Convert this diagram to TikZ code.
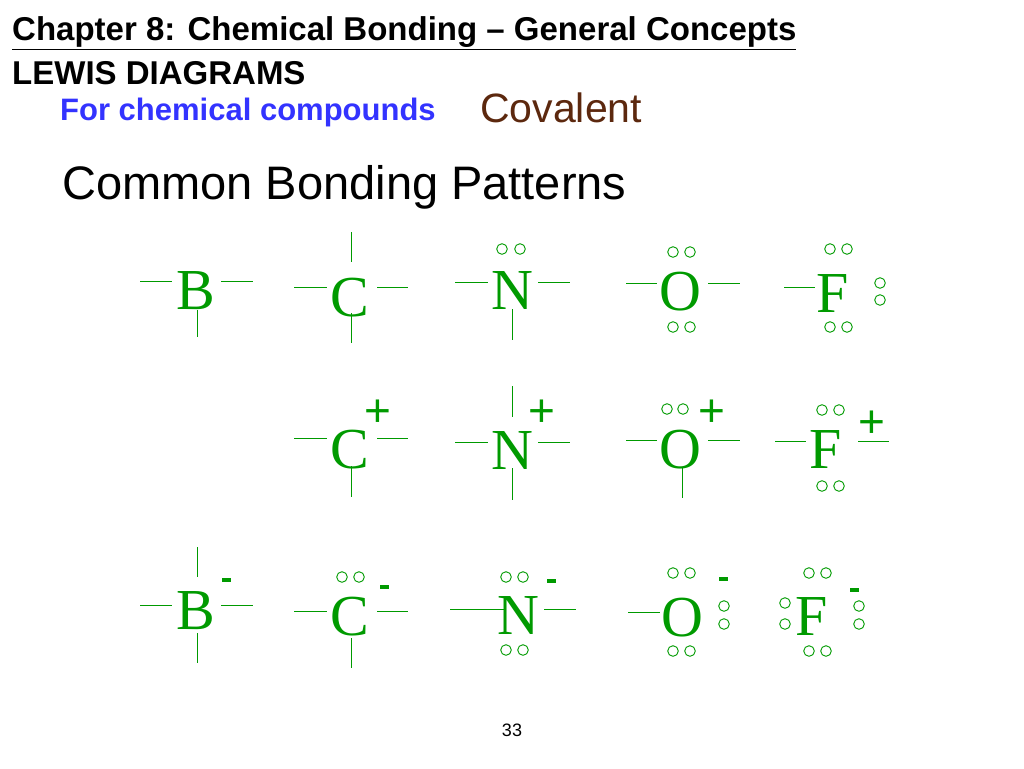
\documentclass[tikz,border=0pt]{standalone}
\usepackage{fontspec}
\setmainfont{Liberation Sans}
\newfontfamily\serif{Liberation Serif}
\begin{document}
\begin{tikzpicture}[x=1pt,y=-1pt,
  atom/.style={text=G,font=\serif\fontsize{58}{58}\selectfont,inner sep=0pt},
  bnd/.style={draw=G,line width=0.9pt},
  lp/.style={draw=G,line width=0.9pt},
  chg/.style={text=G,font=\fontsize{46}{46}\selectfont,inner sep=0pt},
  mns/.style={fill=G,minimum width=9pt,minimum height=3.5pt,inner sep=0pt}]
\definecolor{G}{HTML}{009A00}
\useasboundingbox (0,0) rectangle (1024,768);
\newcommand\ep[2]{\draw[lp] (#1,#2) circle (5.3);}
\newcommand\bl[3]{\draw[bnd] (#1,#3) -- (#2,#3);}
\newcommand\bv[3]{\draw[bnd] (#1,#2) -- (#1,#3);}
% texts
\node[anchor=base west,inner sep=0pt,font=\bfseries\fontsize{33}{33}\selectfont] (t1) at (12,41) {\underline{Chapter 8: Chemical Bonding -- General Concepts}};
\node[anchor=base west,inner sep=0pt,font=\bfseries\fontsize{33}{33}\selectfont] (t2) at (12,84) {LEWIS DIAGRAMS};
\node[anchor=base west,inner sep=0pt,text={rgb,255:red,51;green,51;blue,255},font=\bfseries\fontsize{31}{31}\selectfont] (t3) at (60,120) {For chemical compounds};
\node[anchor=base west,inner sep=0pt,text={rgb,255:red,92;green,40;blue,14},font=\fontsize{41}{41}\selectfont] (t4) at (480,122) {Covalent};
\node[anchor=base west,inner sep=0pt,font=\fontsize{47}{47}\selectfont] (t5) at (62,199) {Common Bonding Patterns};
\node[inner sep=0pt,font=\fontsize{18}{18}\selectfont] (pg) at (512,730) {33};
% row 1
\node[atom] (B1) at (196,291) {B}; \bl{140}{172}{281}\bl{221}{253}{281}\bv{197}{310}{337}
\node[atom] (C1) at (350,298) {C}; \bl{294}{327}{287}\bl{377}{408}{287}\bv{351}{232}{262}\bv{351}{313}{343}
\node[atom] (N1) at (512,291) {N}; \bl{455}{488}{282}\bl{538}{570}{282}\bv{512}{309}{340}\ep{502}{249}\ep{520}{249}
\node[atom] (O1) at (680,292) {O}; \bl{626}{657}{283}\bl{708}{740}{283}\ep{673}{252}\ep{690}{252}\ep{673}{327}\ep{690}{327}
\node[atom] (F1) at (833,294) {F}; \bl{784}{815}{287}\ep{830}{249}\ep{847}{249}\ep{880}{283}\ep{880}{300}\ep{830}{327}\ep{847}{327}
% row 2
\node[atom] (C2) at (350,450) {C}; \bl{294}{327}{438}\bl{377}{408}{438}\bv{351}{466}{497}\node[chg] (c2p) at (378,413) {+};
\node[atom] (N2) at (512,451) {N}; \bl{455}{488}{442}\bl{538}{570}{442}\bv{512}{386}{417}\bv{512}{468}{500}\node[chg] (n2p) at (542,413) {+};
\node[atom] (O2) at (680,450) {O}; \bl{626}{657}{440}\bl{708}{740}{440}\bv{682}{468}{498}\ep{667}{409}\ep{683}{409}\node[chg] (o2p) at (712,413) {+};
\node[atom] (F2) at (826,450) {F}; \bl{775}{806}{441}\bl{858}{889}{441}\ep{822}{410}\ep{839}{410}\ep{822}{486}\ep{839}{486}\node[chg] (f2p) at (872,424) {+};
% row 3
\node[atom] (B3) at (196,611) {B}; \bl{140}{172}{605}\bl{221}{253}{605}\bv{197}{547}{577}\bv{197}{633}{663}\node[mns] (b3m) at (226,580) {};
\node[atom] (C3) at (350,617) {C}; \bl{294}{327}{611}\bl{377}{408}{611}\bv{351}{638}{668}\ep{342}{577}\ep{359}{577}\node[mns] (c3m) at (384,587) {};
\node[atom] (N3) at (518,616) {N}; \bl{450}{505}{609}\bl{544}{576}{609}\ep{506}{577}\ep{523}{577}\ep{506}{650}\ep{523}{650}\node[mns] (n3m) at (551,581) {};
\node[atom] (O3) at (682,618) {O}; \bl{628}{660}{612}\ep{673}{573}\ep{690}{573}\ep{673}{651}\ep{690}{651}\ep{724}{606}\ep{724}{624}\node[mns] (o3m) at (723,579) {};
\node[atom] (F3) at (812,617) {F}; \ep{809}{573}\ep{826}{573}\ep{809}{651}\ep{826}{651}\ep{785}{603}\ep{785}{624}\ep{859}{606}\ep{859}{624}\node[mns] (f3m) at (854,590) {};
\end{tikzpicture}
\end{document}
